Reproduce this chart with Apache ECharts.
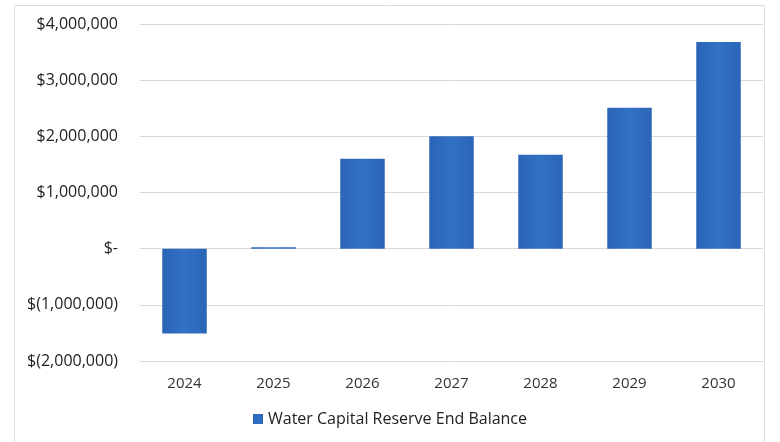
<!DOCTYPE html>
<html>
<head>
<meta charset="utf-8">
<script src="https://cdn.jsdelivr.net/npm/echarts@6/dist/echarts.min.js"></script>
<style>
  html, body { margin: 0; padding: 0; background: #ffffff; }
  #chart { width: 780px; height: 442px; }
</style>
</head>
<body>
<div id="chart"></div>
<script>
const years = ['2024', '2025', '2026', '2027', '2028', '2029', '2030'];
const endBalance = [-1510000, 25000, 1600000, 2000000, 1670000, 2510000, 3680000];
const seriesName = 'Water Capital Reserve End Balance';

const chart = echarts.init(document.getElementById('chart'), null, {renderer: 'canvas'});

const fmt = new Intl.NumberFormat('en-US', {maximumFractionDigits: 0});

const barColor = new echarts.graphic.LinearGradient(0, 0, 1, 0, [
    {offset: 0, color: '#2b64b6'},
    {offset: 0.5, color: '#3271c4'},
    {offset: 1, color: '#2b65b7'}
]);

const option = {
    animation: false,
    textStyle: {fontFamily: '"Open Sans", sans-serif'},
    graphic: [{
        type: 'rect',
        shape: {x: 14.5, y: 5.5, width: 750, height: 450},
        style: {fill: 'none', stroke: '#dcdcdc', lineWidth: 1},
        silent: true,
        z: -1
    }],
    grid: {left: 140, right: 17, top: 24, bottom: 81},
    xAxis: {
        type: 'category',
        data: years,
        axisTick: {show: false},
        axisLine: {show: false},
        axisLabel: {color: '#333', fontSize: 15, margin: 15}
    },
    yAxis: {
        type: 'value',
        min: -2000000,
        max: 4000000,
        interval: 1000000,
        axisLine: {show: false},
        axisTick: {show: false},
        splitLine: {lineStyle: {color: '#d9d9d9', width: 1}},
        axisLabel: {
            color: '#222',
            fontSize: 16,
            margin: 22,
            formatter: function (v) {
                if (v === 0) return '$-';
                if (v < 0) return '$(' + fmt.format(-v) + ')';
                return '$' + fmt.format(v);
            }
        }
    },
    legend: {
        bottom: 10,
        left: 'center',
        itemWidth: 10,
        itemHeight: 10,
        icon: 'rect',
        textStyle: {color: '#222', fontSize: 16},
        data: [seriesName]
    },
    series: [{
        name: seriesName,
        type: 'bar',
        data: endBalance,
        barWidth: '50%',
        itemStyle: {color: barColor}
    }]
};

chart.setOption(option);
</script>
</body>
</html>
